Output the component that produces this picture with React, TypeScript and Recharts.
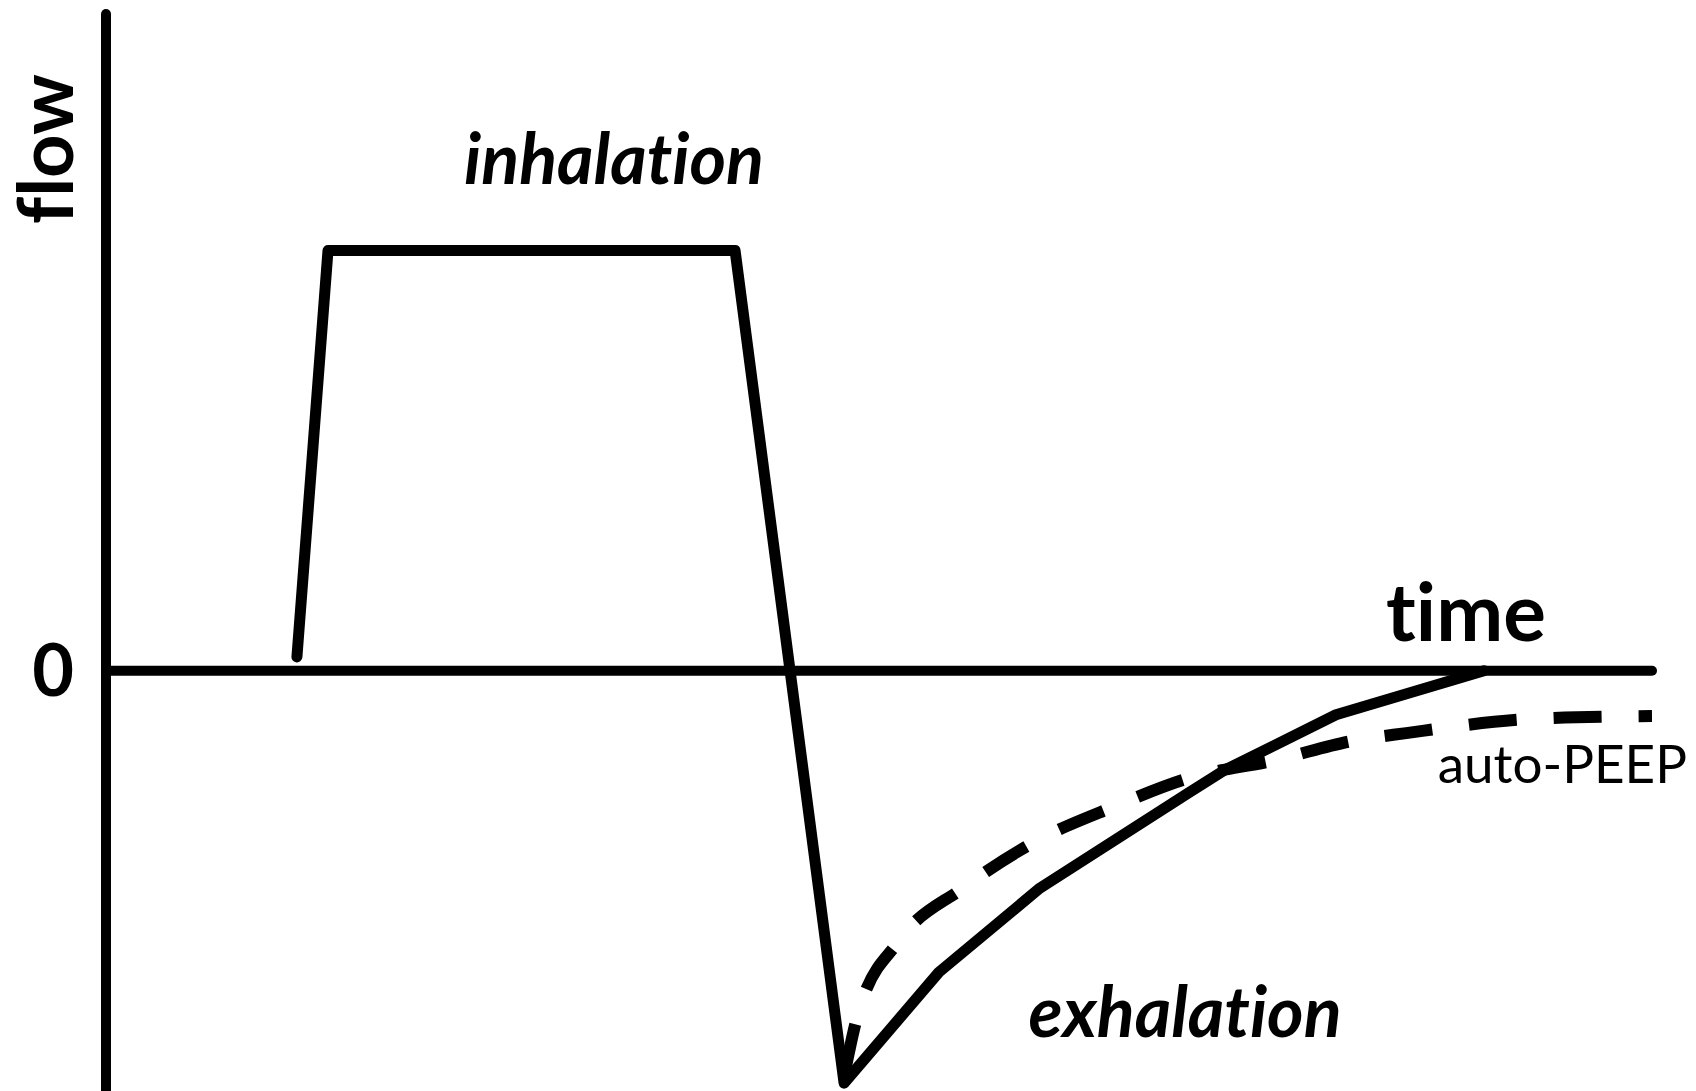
import { LineChart, Line, XAxis, YAxis, ReferenceLine, ReferenceDot } from 'recharts'

// time in arbitrary units (0..1000), flow in arbitrary units
const flowX = [123.5, 143.6, 406.9, 477.4, 538.8, 604.1, 699.2, 723, 795.6, 891.3]
const flowY = [2.1, 64, 64, -62.8, -45.9, -33.1, -18.75, -15.2, -6.7, 0]

const autoPeepX = [478, 486, 512.3, 554.3, 602.8, 652, 701.2, 756.8, 806, 841, 925, 1000]
const autoPeepY = [-61, -52.6, -41.3, -33.1, -25.8, -20.7, -16.3, -13.6, -10.7, -9.5, -7.3, -6.9]

const yTicks = [0]

const flowData = flowX.map((x, i) => ({ x, y: flowY[i] }))
const autoPeepData = autoPeepX.map((x, i) => ({ x, y: autoPeepY[i] }))

const FONT = 'Lato, "Open Sans", sans-serif'
const noLig = { fontVariantLigatures: 'none', fontFeatureSettings: '"liga" 0, "clig" 0' }

const FlowLabel = ({ viewBox }: any) => (
  <text
    x={viewBox.x + 43}
    y={viewBox.y + 135}
    transform={`rotate(-90, ${viewBox.x + 43}, ${viewBox.y + 135})`}
    textAnchor="middle"
    dominantBaseline="central"
    fontFamily={FONT}
    fontWeight={700}
    fontSize={76}
    fill="#000"
    style={noLig}
  >
    flow
  </text>
)

const note = (value: string, size: number, italic: boolean, bold: boolean) => ({
  value,
  position: 'center' as const,
  fontFamily: FONT,
  fontSize: size,
  fontStyle: italic ? 'italic' : 'normal',
  fontWeight: bold ? 700 : 400,
  fill: '#000',
  style: noLig,
})

const App = () => (
  <div style={{ position: 'absolute', left: 0, top: 0, background: '#fff' }}>
    <LineChart width={1696} height={1091} margin={{ top: 14, right: 44, bottom: 0, left: 0 }}>
      <XAxis dataKey="x" type="number" domain={[0, 1000]} hide allowDataOverflow />
      <YAxis
        type="number"
        domain={[-64, 100]}
        ticks={yTicks}
        width={106}
        allowDataOverflow
        tickLine={false}
        tickSize={0}
        tickMargin={32}
        axisLine={{ stroke: '#000', strokeWidth: 10, strokeLinecap: 'round' }}
        tick={{ fill: '#000', fontSize: 72, fontWeight: 700, fontFamily: FONT }}
        label={<FlowLabel />}
      />
      <ReferenceLine y={0} stroke="#000" strokeWidth={10} strokeLinecap="round" />
      <Line
        data={autoPeepData}
        dataKey="y"
        type="monotone"
        stroke="#000"
        strokeWidth={12}
        strokeDasharray="48 37"
        dot={false}
        activeDot={false}
        isAnimationActive={false}
      />
      <Line
        data={flowData}
        dataKey="y"
        type="linear"
        stroke="#000"
        strokeWidth={11}
        strokeLinejoin="round"
        strokeLinecap="round"
        dot={false}
        activeDot={false}
        isAnimationActive={false}
      />
      <ReferenceDot x={328.6} y={77.9} r={0} label={note('inhalation', 70, true, true)} />
      <ReferenceDot x={879.7} y={8.8} r={0} label={note('time', 80, false, true)} />
      <ReferenceDot x={698} y={-52} r={0} label={note('exhalation', 70, true, true)} />
      <ReferenceDot x={942} y={-14.3} r={0} label={note('auto-PEEP', 53, false, false)} />
    </LineChart>
  </div>
)

export default App
